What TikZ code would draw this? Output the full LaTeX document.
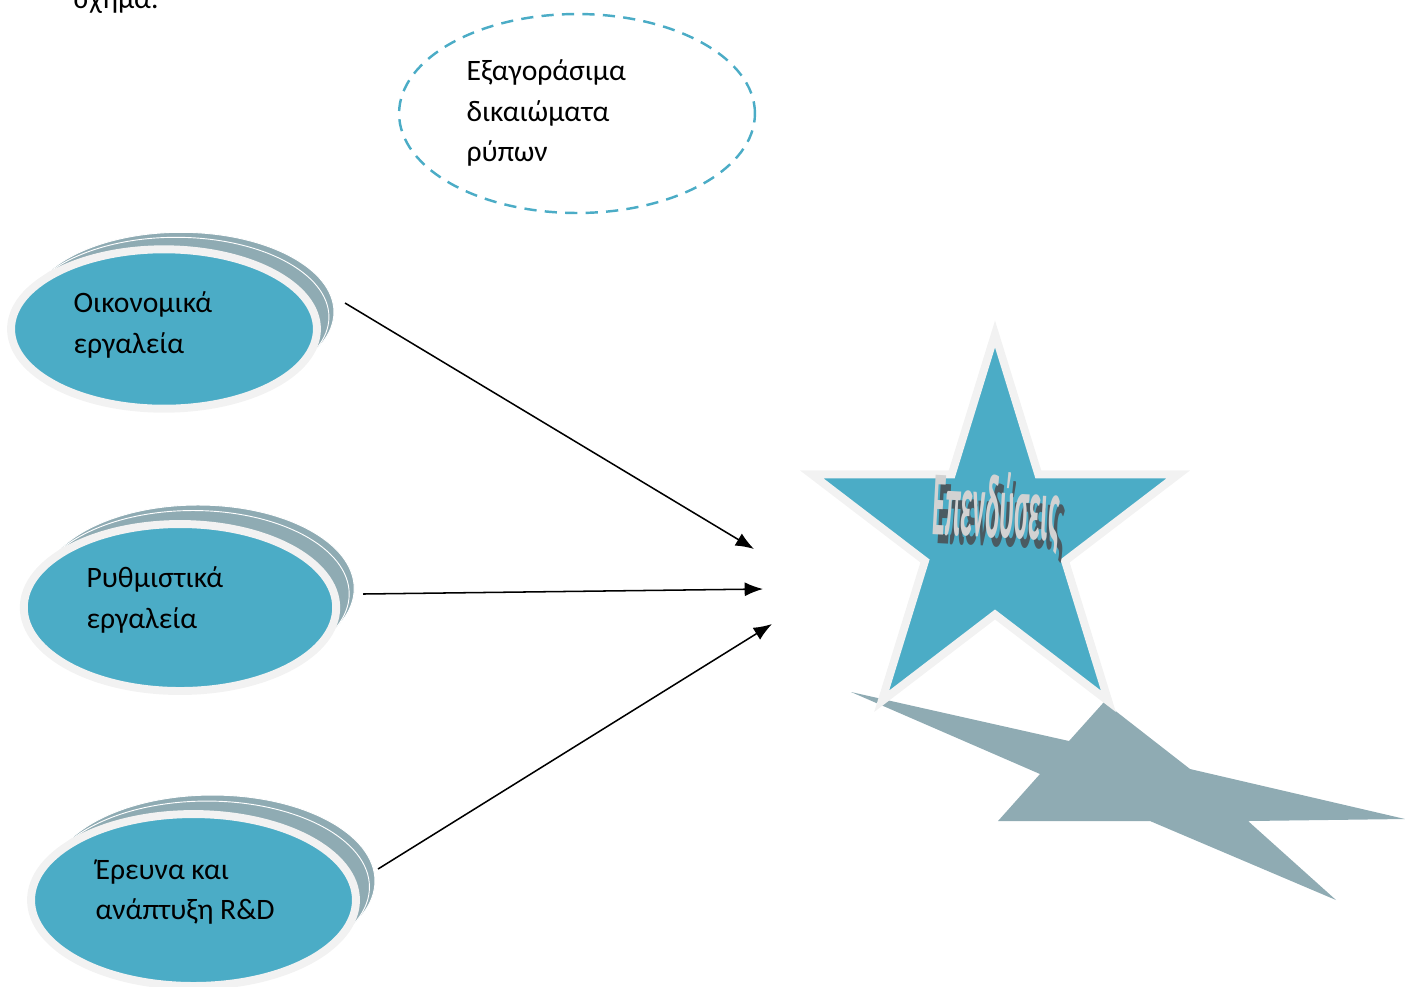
\documentclass[tikz,border=0pt]{standalone}
\usepackage{fontspec}
\setmainfont{Carlito}
\usetikzlibrary{arrows.meta}
\usetikzlibrary{shapes.geometric}

\definecolor{toolblue}{HTML}{4BACC6}
\definecolor{ringgrey}{HTML}{F2F2F2}
\definecolor{shadowgrey}{HTML}{8FABB3}
\definecolor{wordshadow}{HTML}{4A5A61}

\begin{document}
\begin{tikzpicture}[x=0.0115cm, y=-0.0115cm,
    font=\fontsize{9.7}{13.3}\selectfont,
    tool/.style={ellipse, fill=toolblue, draw=ringgrey, line width=2.6pt, inner sep=0pt},
    toolshadow/.style={ellipse, fill=shadowgrey, draw=white, line width=0.3pt, inner sep=0pt},
    lbl/.style={align=left, anchor=west, inner sep=0pt},
    link/.style={-{Latex[length=6pt, width=4.6pt]}, line width=0.5pt}]
    \useasboundingbox (0,0) rectangle (1405,986);

    \node[anchor=base west, inner sep=0pt] (cap) at (73,8) {σχήμα.};

    % dashed ellipse
    \node[ellipse, draw=toolblue, line width=0.8pt, dash pattern=on 4pt off 2.7pt,
          minimum width=4.094cm, minimum height=2.289cm, inner sep=0pt] (permits) at (577,113.5) {};
    \node[lbl] (permitstxt) at (466,113) {Εξαγοράσιμα\\δικαιώματα\\ρύπων};

    % tools on the left
    \node[toolshadow, minimum width=3.519cm, minimum height=1.834cm] (econsh1) at (181,312) {};
    \node[toolshadow, minimum width=3.519cm, minimum height=1.834cm] (econsh2) at (176,317) {};
    \node[tool, minimum width=3.519cm, minimum height=1.834cm] (econ) at (164,329) {};
    \node[lbl] (econtxt) at (73,325) {Οικονομικά\\εργαλεία};

    \node[toolshadow, minimum width=3.594cm, minimum height=1.921cm] (regsh1) at (198,588.5) {};
    \node[toolshadow, minimum width=3.594cm, minimum height=1.921cm] (regsh2) at (193,594) {};
    \node[tool, minimum width=3.594cm, minimum height=1.921cm] (reg) at (180,607.5) {};
    \node[lbl] (regtxt) at (86,600) {Ρυθμιστικά\\εργαλεία};

    \node[toolshadow, minimum width=3.738cm, minimum height=1.978cm] (rndsh1) at (212.5,881) {};
    \node[toolshadow, minimum width=3.738cm, minimum height=1.978cm] (rndsh2) at (207,887) {};
    \node[tool, minimum width=3.738cm, minimum height=1.978cm] (rnd) at (193.5,900) {};
    \node[lbl] (rndtxt) at (95,892) {Έρευνα και\\ανάπτυξη R\&D};

    % star and its shadow
    \fill[shadowgrey] (851,692) -- (1069,741) -- (1104,702) -- (1190,769) -- (1405,819)
        -- (1248,821) -- (1336,900) -- (1150,821) -- (998,821) -- (1040,774) -- cycle;
    \begin{scope}[shift={(995,537)}, xscale=0.95]
        \filldraw[fill=toolblue, draw=ringgrey, line width=2.6pt]
            (-90:203) -- (-54:77.5) -- (-18:203) -- (18:77.5) -- (54:203) -- (90:77.5)
            -- (126:203) -- (162:77.5) -- (198:203) -- (234:77.5) -- cycle;
    \end{scope}
    \node[text=wordshadow, rotate=-3, inner sep=0pt] (investsh) at (1001,521)
        {\scalebox{0.29}[1]{\bfseries\fontsize{30}{30}\selectfont Επενδύσεις}};
    \node[text=gray!35, rotate=-3, inner sep=0pt] (invest) at (996,512)
        {\scalebox{0.29}[1]{\bfseries\fontsize{30}{30}\selectfont Επενδύσεις}};

    % arrows
    \coordinate (econout) at (345,303);
    \coordinate (regout) at (363,594);
    \coordinate (rndout) at (378,869);
    \coordinate (in1) at (754,549);
    \coordinate (in2) at (763,589);
    \coordinate (in3) at (772,624);

    \draw[link] (econout) -- (in1);
    \draw[link] (regout) -- (in2);
    \draw[link] (rndout) -- (in3);
\end{tikzpicture}
\end{document}
